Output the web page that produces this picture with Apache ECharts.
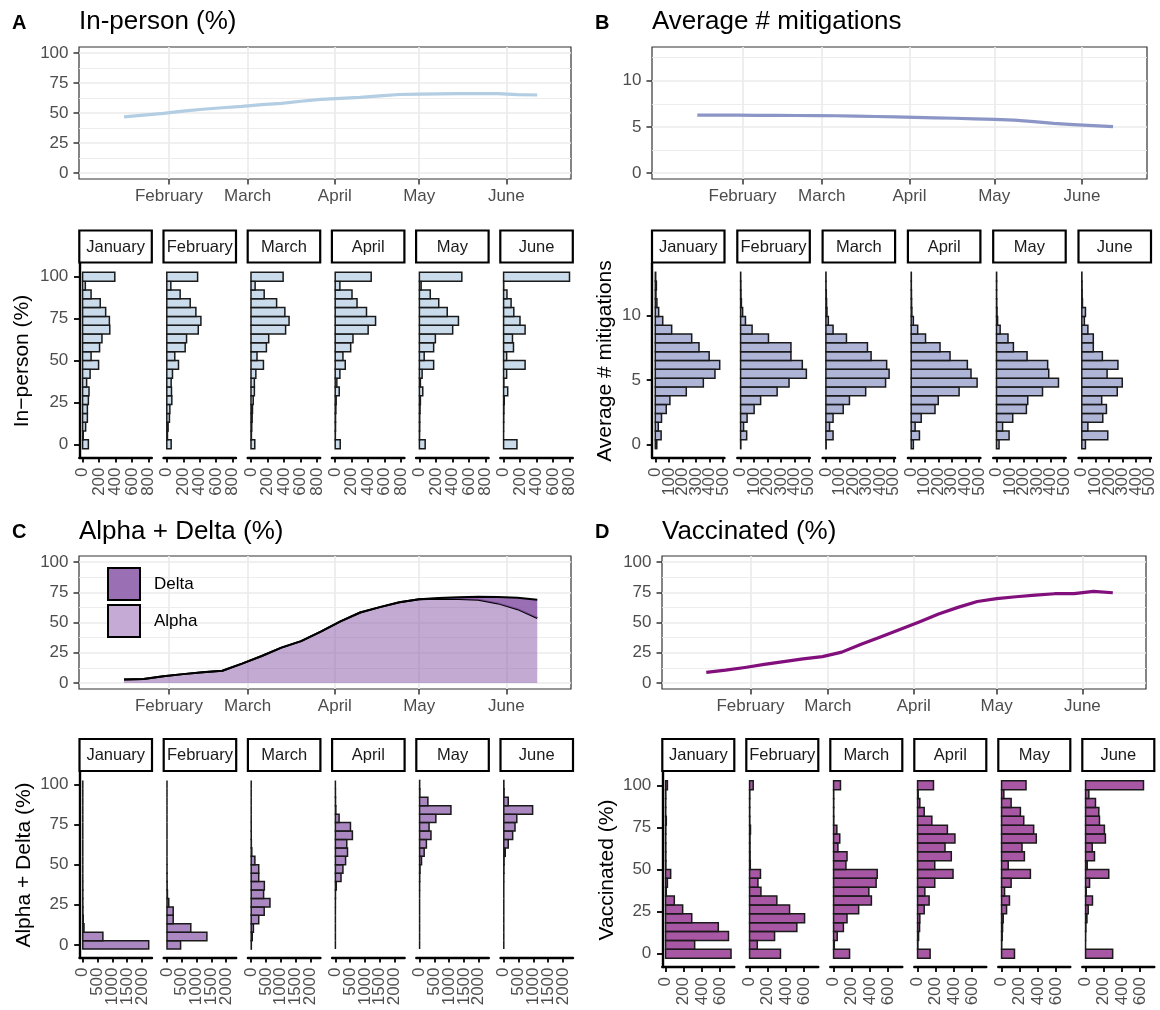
<!DOCTYPE html>
<html>
<head>
<meta charset="utf-8">
<title>COVID school survey trends</title>
<script src="https://cdn.jsdelivr.net/npm/echarts@6/dist/echarts.min.js"></script>
<style>
  html, body { margin: 0; padding: 0; background: #ffffff; }
  #chart { width: 1160px; height: 1010px; }
</style>
</head>
<body>
<div id="chart"></div>
<script>
// ---------- data ----------
const histMonths = ['January', 'February', 'March', 'April', 'May', 'June'];
const monthNames = ['January', 'February', 'March', 'April', 'May', 'June',
  'July', 'August', 'September', 'October', 'November', 'December'];
const monthTicks = ['2021-02-01', '2021-03-01', '2021-04-01', '2021-05-01', '2021-06-01'];

const weekDates = ['2021-01-16', '2021-01-23', '2021-01-30', '2021-02-06', '2021-02-13', '2021-02-20',
  '2021-02-27', '2021-03-06', '2021-03-13', '2021-03-20', '2021-03-27', '2021-04-03', '2021-04-10',
  '2021-04-17', '2021-04-24', '2021-05-01', '2021-05-08', '2021-05-15', '2021-05-22', '2021-05-29',
  '2021-06-05', '2021-06-12'];

const inPersonShare = [46.8, 48.3, 49.7, 51.5, 53.1, 54.4, 55.5, 57.0, 58.0, 59.8, 61.3, 62.2, 63.0,
  64.3, 65.4, 65.8, 66.0, 66.1, 66.1, 66.2, 65.3, 65.0];
const mitigationsMean = [6.28, 6.27, 6.26, 6.25, 6.24, 6.23, 6.22, 6.20, 6.17, 6.12, 6.08, 6.03, 5.98,
  5.93, 5.87, 5.80, 5.72, 5.56, 5.37, 5.24, 5.14, 5.02];
const alphaShare = [2.8, 3.3, 5.6, 7.3, 8.8, 10.1, 16.0, 22.3, 29.2, 34.6, 42.5, 51.0, 58.3, 62.7,
  66.7, 69.3, 69.7, 69.5, 68.9, 65.8, 61.0, 53.7];
const deltaShare = [0, 0, 0, 0, 0, 0, 0, 0, 0, 0, 0, 0, 0, 0, 0, 0, 0.5, 1.4, 2.4, 5.2, 9.4, 15.2];
const vaccinatedShare = [8.8, 10.6, 12.8, 15.3, 17.6, 19.9, 21.8, 25.5, 32.0, 38.0, 44.3, 50.5, 57.0,
  62.5, 67.4, 69.8, 71.3, 72.7, 73.8, 73.9, 75.7, 74.6];

// histogram counts, 20 bins from the lowest to the highest value, one row per month
const inPersonHist = [
  [70, 8, 37, 58, 58, 70, 78, 49, 91, 194, 103, 206, 235, 330, 325, 280, 214, 103, 33, 391],
  [53, 8, 16, 32, 37, 61, 57, 53, 69, 142, 97, 223, 240, 382, 414, 353, 284, 162, 49, 374],
  [46, 5, 9, 14, 18, 27, 41, 41, 59, 151, 73, 187, 215, 420, 462, 411, 311, 160, 50, 390],
  [61, 2, 4, 4, 8, 12, 49, 20, 57, 122, 94, 188, 216, 400, 490, 380, 265, 204, 57, 437],
  [70, 2, 4, 4, 8, 12, 41, 12, 33, 173, 58, 173, 194, 404, 474, 338, 235, 132, 21, 515],
  [162, 0, 1, 2, 4, 8, 50, 4, 37, 261, 37, 120, 108, 261, 199, 124, 91, 41, 2, 800]
];
const mitigationsHist = [
  [11, 43, 22, 46, 81, 108, 229, 355, 441, 476, 398, 323, 269, 121, 55, 25, 12, 5, 8, 3],
  [2, 45, 22, 48, 100, 148, 270, 358, 486, 456, 372, 372, 206, 85, 36, 15, 6, 3, 2, 1],
  [2, 53, 27, 53, 128, 174, 294, 441, 467, 449, 334, 307, 152, 53, 18, 8, 5, 3, 1, 1],
  [16, 61, 29, 74, 176, 200, 354, 487, 442, 415, 287, 213, 106, 48, 16, 5, 3, 2, 1, 1],
  [19, 93, 45, 120, 221, 231, 340, 458, 386, 378, 226, 125, 85, 27, 8, 4, 2, 1, 1, 1],
  [27, 192, 45, 155, 182, 147, 262, 299, 187, 267, 152, 85, 85, 45, 19, 27, 5, 3, 2, 1]
];
const variantHist = [
  [2230, 680, 40, 15, 5, 2, 1, 1, 0, 0, 0, 0, 0, 0, 0, 0, 0, 0, 0, 0],
  [460, 1350, 805, 210, 210, 60, 15, 5, 2, 1, 0, 0, 0, 0, 0, 0, 0, 0, 0, 0],
  [5, 35, 75, 255, 440, 635, 420, 445, 255, 255, 125, 20, 5, 2, 1, 0, 0, 0, 0, 0],
  [0, 0, 0, 0, 0, 1, 3, 30, 190, 255, 345, 410, 385, 575, 510, 125, 15, 5, 2, 0],
  [0, 0, 0, 0, 0, 0, 0, 1, 5, 15, 65, 155, 230, 385, 320, 550, 1060, 280, 10, 3],
  [0, 0, 0, 0, 0, 0, 0, 0, 1, 5, 10, 50, 150, 300, 380, 440, 975, 150, 10, 3]
];
const vaccinatedHist = [
  [720, 320, 692, 580, 288, 188, 96, 8, 20, 56, 4, 3, 3, 2, 3, 8, 2, 2, 3, 20],
  [340, 85, 275, 520, 605, 440, 300, 125, 92, 120, 8, 6, 5, 5, 10, 3, 2, 2, 3, 40],
  [176, 8, 40, 108, 148, 276, 416, 388, 468, 480, 136, 148, 48, 68, 36, 3, 2, 2, 2, 76],
  [138, 4, 11, 22, 25, 73, 127, 80, 189, 390, 189, 371, 302, 411, 328, 157, 73, 25, 7, 175],
  [142, 2, 7, 11, 18, 55, 87, 33, 105, 317, 73, 251, 225, 382, 353, 244, 207, 105, 25, 269],
  [298, 0, 1, 4, 15, 29, 76, 7, 44, 255, 18, 98, 73, 218, 207, 153, 146, 109, 36, 637]
];

const pctTicks = [0, 25, 50, 75, 100];
const pctMinor = [12.5, 37.5, 62.5, 87.5];
const mitigationTicks = [0, 5, 10];
const mitigationMinor = [2.5, 7.5, 12.5];
const inPersonCountTicks = [0, 200, 400, 600, 800];
const mitigationCountTicks = [0, 100, 200, 300, 400, 500];
const variantCountTicks = [0, 500, 1000, 1500, 2000];
const vaccinatedCountTicks = [0, 200, 400, 600];

// ---------- styling / layout ----------
const FONT = '"Liberation Sans", Arial, Helvetica, sans-serif';
const GREY = '#4d4d4d';
// dates are placed on a day-number axis counted from 1 January 2021
const DAY_MS = 86400000;
const EPOCH = Date.UTC(2021, 0, 1);
function dayNumber(s) {
  const parts = s.split('-').map(Number);
  return (Date.UTC(parts[0], parts[1] - 1, parts[2]) - EPOCH) / DAY_MS;
}
const dayMin = dayNumber('2020-12-31');
const dayMax = dayNumber('2021-06-24');
const monthTickDays = monthTicks.map(dayNumber);
const monthLabel = v => monthNames[new Date(EPOCH + Math.round(v) * DAY_MS).getUTCMonth()];

const panels = [
  {
    letter: 'A', title: 'In-person (%)', yTitle: 'In\u2212person (%)',
    lineColor: '#b3cde3', histFill: 'rgba(179,205,227,0.7)',
    top: { x: 79, y: 47, w: 492, h: 132 }, yMin: -5, yMax: 105, yTicks: pctTicks, yMinor: pctMinor,
    letterPos: [12, 23], titlePos: [79, 21.5],
    hist: inPersonHist, valueSpan: 100, countTicks: inPersonCountTicks,
    histBox: { x: 79.3, w: 72.5, step: 84.2, top: 263.5, bottom: 457.5 }, stripTop: 230.5,
    yTitlePos: [22, 361]
  },
  {
    letter: 'B', title: 'Average # mitigations', yTitle: 'Average # mitigations',
    lineColor: '#8c96c6', histFill: 'rgba(140,150,198,0.7)',
    top: { x: 652, y: 47, w: 495, h: 132 }, yMin: -0.65, yMax: 13.65, yTicks: mitigationTicks, yMinor: mitigationMinor,
    letterPos: [595, 23], titlePos: [652, 21.5],
    hist: mitigationsHist, valueSpan: 13, countTicks: mitigationCountTicks,
    histBox: { x: 652, w: 72.5, step: 85.3, top: 263.5, bottom: 457.5 }, stripTop: 230.5,
    yTitlePos: [605, 361]
  },
  {
    letter: 'C', title: 'Alpha + Delta (%)', yTitle: 'Alpha + Delta (%)',
    lineColor: '#000000', histFill: 'rgba(136,86,167,0.7)',
    top: { x: 79, y: 556, w: 492, h: 133 }, yMin: -5, yMax: 105, yTicks: pctTicks, yMinor: pctMinor,
    letterPos: [12, 532], titlePos: [79, 532],
    hist: variantHist, valueSpan: 100, countTicks: variantCountTicks,
    histBox: { x: 79.5, w: 72.5, step: 84.2, top: 772, bottom: 957.5 }, stripTop: 739,
    yTitlePos: [24, 865]
  },
  {
    letter: 'D', title: 'Vaccinated (%)', yTitle: 'Vaccinated (%)',
    lineColor: '#810f7c', histFill: 'rgba(129,15,124,0.7)',
    top: { x: 662, y: 556, w: 484, h: 133 }, yMin: -5, yMax: 105, yTicks: pctTicks, yMinor: pctMinor,
    letterPos: [595, 532], titlePos: [662, 532],
    hist: vaccinatedHist, valueSpan: 100, countTicks: vaccinatedCountTicks,
    histBox: { x: 662.3, w: 72, step: 84, top: 772, bottom: 967 }, stripTop: 739,
    yTitlePos: [607, 870]
  }
];

const grids = [], xAxes = [], yAxes = [], series = [], graphics = [];
const countAxes = []; // histogram count axes whose tick labels are set as rotated text

function tickStyle(len) {
  return { show: true, length: len, lineStyle: { color: '#333333', width: 1.5 } };
}
function labelStyle(extra) {
  return Object.assign({ color: GREY, fontSize: 17, fontFamily: FONT }, extra);
}
function minorGridLines(values) {
  return {
    silent: true, symbol: ['none', 'none'], z: 1, animation: false,
    label: { show: false },
    lineStyle: { color: '#ebebeb', width: 0.9, type: 'solid' },
    emphasis: { disabled: true },
    data: values.map(v => ({ yAxis: v }))
  };
}
function histRenderer(binWidth, fill) {
  return function (params, api) {
    const count = api.value(0);
    const center = api.value(1);
    const a = api.coord([0, center + binWidth / 2]);
    const b = api.coord([count, center - binWidth / 2]);
    return {
      type: 'rect',
      shape: { x: a[0], y: a[1], width: b[0] - a[0], height: b[1] - a[1] },
      style: { fill: fill, stroke: '#1a1a1a', lineWidth: 1.5 }
    };
  };
}
const lineData = values => weekDates.map((d, i) => [dayNumber(d), values[i]]);
// value first, day second: keeps the stacked dimension on the y axis
const stackData = values => weekDates.map((d, i) => [values[i], dayNumber(d)]);

panels.forEach((p) => {
  // ----- weekly trend panel -----
  const g = grids.length;
  grids.push({
    left: p.top.x, top: p.top.y, width: p.top.w, height: p.top.h,
    show: true, borderColor: '#333333', borderWidth: 1.2, backgroundColor: 'transparent'
  });
  xAxes.push({
    type: 'value', gridIndex: g, min: dayMin, max: dayMax,
    axisLine: { show: false, onZero: false },
    axisTick: Object.assign(tickStyle(5.5), { customValues: monthTickDays }),
    axisLabel: labelStyle({ customValues: monthTickDays, margin: 9, formatter: monthLabel }),
    splitLine: { show: true, lineStyle: { color: '#ebebeb', width: 1.7 } }
  });
  yAxes.push({
    type: 'value', gridIndex: g, min: p.yMin, max: p.yMax,
    axisLine: { show: false, onZero: false },
    axisTick: Object.assign(tickStyle(5.5), { customValues: p.yTicks }),
    axisLabel: labelStyle({ customValues: p.yTicks, margin: 10.5, formatter: v => String(v) }),
    splitLine: { show: true, lineStyle: { color: '#ebebeb', width: 1.7 } }
  });

  if (p.letter === 'C') {
    series.push({
      name: 'Alpha', type: 'line', xAxisIndex: g, yAxisIndex: g, stack: 'variants',
      data: stackData(alphaShare), encode: { x: 1, y: 0 }, showSymbol: false, z: 3,
      itemStyle: { color: '#c4aad4' },
      lineStyle: { color: '#000000', width: 2 },
      areaStyle: { color: 'rgba(136,86,167,0.5)', opacity: 1 },
      markLine: minorGridLines(p.yMinor)
    });
    series.push({
      name: 'Delta', type: 'line', xAxisIndex: g, yAxisIndex: g, stack: 'variants',
      data: stackData(deltaShare), encode: { x: 1, y: 0 }, showSymbol: false, z: 4,
      itemStyle: { color: '#9a6fb4' },
      lineStyle: { color: '#000000', width: 2 },
      areaStyle: { color: 'rgba(136,86,167,0.85)', opacity: 1 }
    });
  } else {
    const values = p.letter === 'A' ? inPersonShare : p.letter === 'B' ? mitigationsMean : vaccinatedShare;
    series.push({
      type: 'line', xAxisIndex: g, yAxisIndex: g, data: lineData(values),
      showSymbol: false, z: 3,
      lineStyle: { color: p.lineColor, width: 3.2, cap: 'butt', join: 'round' },
      markLine: minorGridLines(p.yMinor)
    });
  }

  // panel letter and title
  graphics.push({
    type: 'text', x: p.letterPos[0], y: p.letterPos[1],
    style: { text: p.letter, fontFamily: FONT, fontWeight: 'bold', fontSize: 20, fill: '#000', align: 'left', verticalAlign: 'middle' }
  });
  graphics.push({
    type: 'text', x: p.titlePos[0], y: p.titlePos[1],
    style: { text: p.title, fontFamily: FONT, fontSize: 26, fill: '#000', align: 'left', verticalAlign: 'middle' }
  });

  // ----- monthly histograms -----
  const binWidth = p.valueSpan / 19;
  const pad = 0.05 * (p.valueSpan + binWidth);
  const valueLo = -binWidth / 2 - pad;
  const valueHi = p.valueSpan + binWidth / 2 + pad;
  const maxCount = Math.max.apply(null, p.hist.map(row => Math.max.apply(null, row)));
  const hb = p.histBox;

  p.hist.forEach((counts, m) => {
    const gi = grids.length;
    const left = hb.x + m * hb.step;
    grids.push({ left: left, top: hb.top, width: hb.w, height: hb.bottom - hb.top });
    countAxes.push({ axisIndex: xAxes.length, ticks: p.countTicks, baseline: hb.bottom });
    xAxes.push({
      type: 'value', gridIndex: gi, min: -0.05 * maxCount, max: 1.05 * maxCount,
      axisLine: { show: true, onZero: false, lineStyle: { color: '#000000', width: 2.4 } },
      axisTick: Object.assign(tickStyle(5), { customValues: p.countTicks, lineStyle: { color: '#000', width: 1.8 } }),
      axisLabel: { show: false },
      splitLine: { show: false }
    });
    yAxes.push({
      type: 'value', gridIndex: gi, min: valueLo, max: valueHi, show: m === 0,
      axisLine: { show: true, onZero: false, lineStyle: { color: '#000000', width: 2.4 } },
      axisTick: Object.assign(tickStyle(5.3), { customValues: p.yTicks, lineStyle: { color: '#000', width: 1.8 } }),
      axisLabel: labelStyle({ customValues: p.yTicks, margin: 11, formatter: v => String(v) }),
      splitLine: { show: false }
    });
    series.push({
      type: 'custom', xAxisIndex: gi, yAxisIndex: gi, silent: true,
      data: counts.map((c, k) => [c, k * binWidth]),
      encode: { x: 0, y: 1 },
      renderItem: histRenderer(binWidth, p.histFill)
    });

    // facet strip
    graphics.push({
      type: 'rect', shape: { x: left, y: p.stripTop, width: hb.w, height: 32 },
      style: { fill: '#ffffff', stroke: '#000000', lineWidth: 2.2 }
    });
    graphics.push({
      type: 'text', x: left + hb.w / 2, y: p.stripTop + 16.5,
      style: { text: histMonths[m], fontFamily: FONT, fontSize: 16.5, fill: '#1a1a1a', align: 'center', verticalAlign: 'middle' }
    });
  });

  graphics.push({
    type: 'text', x: p.yTitlePos[0], y: p.yTitlePos[1], rotation: Math.PI / 2,
    style: { text: p.yTitle, fontFamily: FONT, fontSize: 21, fill: '#000', align: 'center', verticalAlign: 'middle' }
  });
});

const chart = echarts.init(document.getElementById('chart'), null, { renderer: 'canvas', width: 1160, height: 1010 });
chart.setOption({
  animation: false,
  backgroundColor: '#ffffff',
  textStyle: { fontFamily: FONT },
  legend: {
    orient: 'vertical', left: 107, top: 567, padding: 0, itemGap: 3,
    itemWidth: 32, itemHeight: 32, selectedMode: false,
    textStyle: { fontSize: 17, color: '#000', fontFamily: FONT, padding: [0, 0, 0, 9] },
    data: [
      { name: 'Delta', icon: 'rect', itemStyle: { color: '#9a6fb4', borderColor: '#000', borderWidth: 2 } },
      { name: 'Alpha', icon: 'rect', itemStyle: { color: '#c4aad4', borderColor: '#000', borderWidth: 2 } }
    ]
  },
  grid: grids,
  xAxis: xAxes,
  yAxis: yAxes,
  series: series,
  graphic: graphics
});

// rotated count labels, placed at the count axes' own tick positions (kept all, densely packed)
const countLabels = [];
countAxes.forEach(ax => {
  ax.ticks.forEach(v => {
    const px = chart.convertToPixel({ xAxisIndex: ax.axisIndex }, v);
    countLabels.push({
      type: 'text', x: px, y: ax.baseline + 10, rotation: Math.PI / 2,
      style: { text: String(v), fontFamily: FONT, fontSize: 17, fill: GREY, align: 'right', verticalAlign: 'middle' }
    });
  });
});
chart.setOption({ graphic: graphics.concat(countLabels) });
</script>
</body>
</html>
